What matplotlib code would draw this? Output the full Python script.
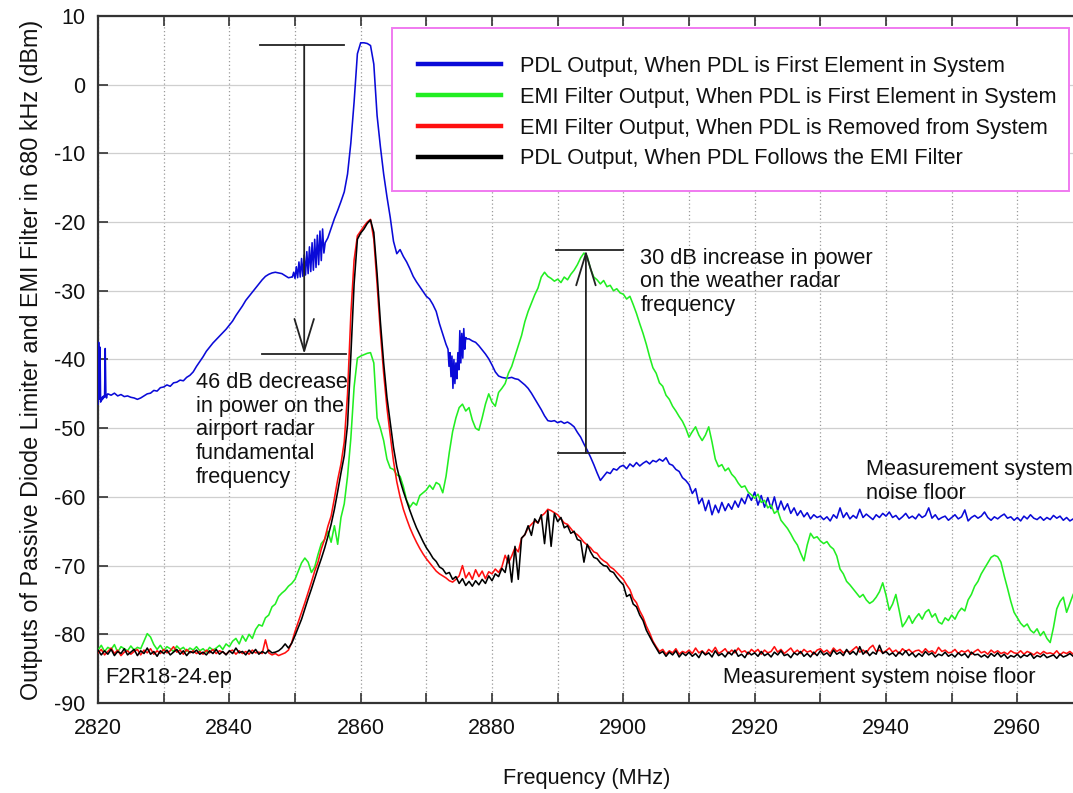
import numpy as np
import matplotlib
matplotlib.use('Agg')
import matplotlib.pyplot as plt
from matplotlib.patches import Rectangle
from matplotlib.lines import Line2D

plt.rcParams['font.family'] = ['Liberation Sans', 'DejaVu Sans']
plt.rcParams['axes.unicode_minus'] = False

nan = float('nan')

# ---------------- data (dBm, sampled every 0.5 MHz from 2820 MHz) ----------------
F_START = 2820.0
F_STEP = 0.5

blue_grid = [
    nan, nan, nan, -45.0, -45.2, -44.9, -45.3, -45.1, -45.4, -45.3,
    -45.5, -45.6, -45.8, -45.6, -45.3, -45.0, -44.9, -44.5, -44.6, -44.1,
    -44.0, -43.7, -43.9, -43.4, -43.3, -43.0, -43.1, -42.6, -42.3, -41.8,
    -41.0, -40.3, -39.6, -38.8, -38.2, -37.6, -37.1, -36.6, -36.1, -35.6,
    -35.0, -34.4, -33.6, -32.9, -32.2, -31.4, -30.8, -30.2, -29.6, -29.0,
    -28.4, -27.9, -27.6, -27.4, -27.3, -27.4, -27.5, -27.8, -28.1, -28.0,
    nan, nan, nan, nan, nan, nan, nan, nan, nan, nan,
    -22.3, -20.9, -19.5, -18.3, -17.0, -15.6, -13.0, -8.5, -2.5, 4.5,
    6.1, 6.1, 6.0, 5.7, 3.0, -4.5, -9.0, -13.0, -16.3, -19.3,
    -22.8, -24.6, -24.0, -25.0, -25.8, -26.8, -27.9, -28.7, -29.4, -30.1,
    -30.8, -31.2, -32.0, -33.0, -34.8, -36.3, -37.8, nan, nan, nan,
    nan, nan, nan, -37.0, -37.3, -37.5, -38.0, -38.6, -39.2, -39.9,
    -40.8, -41.8, -42.4, -42.6, -42.7, -42.7, -42.6, -42.8, -42.9, -43.3,
    -43.7, -44.2, -44.9, -45.7, -46.5, -47.3, -48.2, -48.9, -49.0, -48.9,
    -49.2, -49.0, -49.3, -49.1, -49.4, -49.8, -50.6, -51.3, -52.3, -53.2,
    -54.2, -55.3, -56.5, -57.6, -57.0, -56.4, -56.6, -55.9, -56.1, -55.6,
    -55.4, -55.9, -55.2, -55.6, -55.0, -55.5, -55.1, -54.8, -55.2, -54.7,
    -54.9, -54.5, -54.8, -54.3, -55.2, -55.4, -56.0, -56.3, -57.2, -57.6,
    -58.2, -59.5, -58.8, -61.0, -60.2, -62.0, -60.5, -62.6, -61.2, -62.3,
    -60.8, -62.0, -61.0, -61.8, -60.6, -61.5, -60.2, -61.0, -59.6, -60.5,
    -59.3, -61.2, -59.8, -61.5, -60.1, -61.7, -60.0, -62.0, -60.6, -61.9,
    -61.0, -62.4, -61.6, -62.7, -62.0, -62.9, -62.3, -63.2, -62.6, -63.0,
    -62.8, -63.3, -62.9, -63.5, -62.6, -63.1, -61.6, -63.0, -62.3, -63.2,
    -62.7, -63.1, -61.8, -63.0, -62.5, -62.9, -63.3, -62.6, -63.0, -62.4,
    -62.8, -62.2, -63.0, -62.7, -63.3, -62.9, -62.4, -63.1, -62.8, -63.2,
    -62.5, -63.0, -62.7, -61.6, -63.1, -62.6, -63.3, -63.0, -62.8, -63.4,
    -63.0, -62.6, -63.2, -62.9, -61.9, -63.5, -63.0, -62.7, -63.1, -62.8,
    -62.2, -63.0, -63.4, -62.9, -63.2, -62.8, -62.5, -63.1, -62.9, -63.4,
    -63.0, -63.5, -62.8, -63.2, -62.6, -63.1, -63.3, -62.9, -63.4, -63.0,
    -63.3, -62.7, -63.1, -62.8, -63.4, -63.0, -63.5, -63.2,
]

# finely sampled oscillating segments of the blue trace
blue_burst_freq = [
    2820.0, 2820.1, 2820.2, 2820.3, 2820.4, 2820.5, 2820.6, 2820.7, 2820.8, 2820.9,
    2821.0, 2821.1, 2821.2, 2821.3, 2821.4,
    2849.6, 2849.8, 2850.0, 2850.2, 2850.4, 2850.6, 2850.8, 2851.0, 2851.2, 2851.4,
    2851.6, 2851.8, 2852.0, 2852.2, 2852.4, 2852.6, 2852.8, 2853.0, 2853.2, 2853.4,
    2853.6, 2853.8, 2854.0, 2854.2, 2854.4, 2854.6,
    2873.3, 2873.45, 2873.6, 2873.75, 2873.9, 2874.05, 2874.2, 2874.35, 2874.5, 2874.65,
    2874.8, 2874.95, 2875.1, 2875.25, 2875.4, 2875.55, 2875.7, 2875.85, 2876.0, 2876.2,
]
blue_burst_vals = [
    -46.5, -37.5, -45.8, -38.2, -46.2, -45.6, -45.9, -45.4, -45.7, -45.3,
    -45.5, -38.4, -45.2, -45.6, -45.1,
    -28.0, -27.3, -28.2, -26.5, -28.1, -25.8, -28.0, -25.3, -27.9, -24.8,
    -27.7, -24.3, -27.5, -23.6, -27.2, -23.0, -27.0, -22.5, -26.6, -21.9,
    -26.2, -21.3, -25.6, -21.0, -24.5, -23.0,
    -38.5, -41.0, -39.0, -42.5, -39.5, -44.2, -40.0, -43.5, -40.5, -42.8,
    -39.0, -41.5, -35.8, -40.5, -36.2, -39.8, -35.5, -38.5, -36.8, -37.0,
]

green = [
    -82.3, -81.6, -82.5, -81.9, -82.2, -81.5, -82.6, -81.8, -82.1, -82.4,
    -81.7, -82.3, -81.9, -82.1, -81.0, -79.9, -80.4, -81.5, -82.2, -81.6,
    -82.4, -81.8, -82.1, -82.5, -81.7, -82.2, -81.9, -82.5, -82.0, -82.3,
    -81.8, -82.4, -82.1, -82.6, -81.9, -82.3, -82.0, -81.6, -82.2, -81.4,
    -81.8, -81.0, -80.6, -81.4, -80.2, -81.0, -80.0, -80.6, -79.3, -78.6,
    -78.8, -77.6, -77.2, -76.0, -75.6, -74.5, -74.0, -73.6, -73.0, -72.6,
    -72.0, -70.8, -69.6, -68.9, -69.5, -71.0, -70.2, -68.4, -66.8, -66.2,
    -65.0, -66.6, -64.2, -66.9, -63.0, -61.0, -57.0, -51.5, -44.0, -39.8,
    -39.5, -39.3, -39.1, -39.0, -40.5, -48.5, -50.0, -51.8, -54.5, -55.8,
    -56.0, -56.8, -57.0, -58.5, -60.5, -61.5, -60.8, -61.2, -59.8, -59.4,
    -59.0, -58.3, -58.9, -57.9, -58.2, -59.4, -57.0, -53.5, -50.5, -48.5,
    -47.0, -46.5, -47.5, -47.0, -48.8, -50.0, -50.3, -48.5, -46.5, -45.0,
    -46.2, -46.8, -44.8, -44.2, -43.5, -42.0, -41.0, -39.5, -38.0, -36.5,
    -34.5, -33.0, -31.8, -30.6, -29.6, -28.0, -27.3, -27.9, -28.2, -28.6,
    -28.3, -28.8, -28.0, -28.4, -27.6, -27.0, -26.2, -25.2, -24.5, -25.0,
    -26.8, -28.0, -28.4, -29.0, -28.5, -29.4, -29.2, -30.0, -29.7, -30.3,
    -30.5, -31.2, -30.8, -32.0, -33.3, -34.8, -36.2, -37.8, -39.6, -41.2,
    -42.0, -43.4, -43.9, -45.2, -45.8, -46.8, -47.5, -48.3, -49.0, -50.0,
    -51.3, -50.5, -49.8, -51.0, -51.8, -51.0, -49.8, -52.0, -54.5, -55.6,
    -55.3, -56.2, -55.8, -56.7, -57.2, -58.0, -58.6, -58.4, -59.3, -59.7,
    -60.2, -59.6, -60.8, -60.5, -61.6, -61.2, -62.4, -62.0, -63.4, -64.0,
    -64.6, -65.4, -66.3, -67.0, -68.2, -69.3, -67.0, -65.3, -66.0, -65.8,
    -66.4, -66.8, -66.5, -67.2, -67.6, -68.6, -70.5, -71.2, -72.3, -72.8,
    -73.4, -74.0, -74.6, -74.2, -75.0, -75.5, -75.2, -74.6, -73.8, -72.5,
    -74.3, -76.5, -75.6, -74.2, -76.5, -78.9, -78.2, -77.3, -78.4, -77.6,
    -77.0, -77.8, -76.8, -76.4, -77.5, -77.0, -78.2, -78.5, -77.6, -78.0,
    -77.2, -77.8, -76.8, -76.2, -76.6, -75.0, -74.2, -73.0, -72.3, -71.2,
    -70.4, -69.6, -68.8, -68.5, -68.7, -69.5, -71.5, -73.3, -75.2, -76.8,
    -77.6, -78.4, -78.9, -78.5, -79.4, -79.8, -79.2, -80.2, -79.6, -80.6,
    -81.2, -79.0, -76.3, -75.2, -74.6, -76.8, -75.5, -74.2,
]

red = [
    -82.7, -82.2, -83.0, -82.5, -82.0, -82.8, -82.3, -83.1, -82.6, -82.4,
    -82.9, -82.5, -82.2, -83.0, -82.3, -82.7, -82.1, -82.9, -82.4, -82.8,
    -82.2, -82.7, -82.4, -81.8, -82.6, -82.3, -82.9, -82.2, -82.7, -82.4,
    -82.8, -82.5, -82.9, -82.3, -82.7, -82.2, -82.8, -82.4, -82.6, -82.9,
    -82.5, -82.3, -82.9, -82.4, -82.8, -82.5, -82.9, -82.3, -82.7, -82.6,
    -82.8, -80.8, -82.7, -83.0, -82.8, -83.1, -82.9, -82.7, -82.3, -81.2,
    -79.6, -78.2, -76.8, -75.4, -73.9, -72.4, -70.8, -69.5, -67.6, -66.2,
    -64.3, -62.8, -60.2, -57.5, -55.2, -52.0, -45.0, -33.5, -25.5, -22.0,
    -21.3, -20.6, -20.0, -19.6, -22.5, -29.0, -36.0, -42.0, -47.0, -51.0,
    -54.8, -57.8, -60.0, -61.8, -63.2, -64.5, -65.6, -66.6, -67.5, -68.3,
    -69.0, -69.6, -70.2, -70.8, -71.2, -71.5, -71.8, -72.2, -72.4, -72.0,
    -71.5, -70.0, -71.8, -71.0, -72.0, -70.6, -71.6, -70.8, -71.9, -70.9,
    -71.2, -70.5, -71.0, -70.2, -68.5, -69.6, -68.6, -67.4, -68.0, -66.0,
    -65.5, -64.5, -64.0, -63.5, -63.8, -62.8, -62.4, -61.8, -62.0, -62.3,
    -62.6, -63.2, -63.8, -64.0, -64.6, -65.2, -65.5, -66.0, -66.6, -67.0,
    -67.4, -68.0, -68.2, -68.9, -69.3, -69.6, -70.2, -70.5, -71.0, -71.5,
    -72.0, -72.8, -73.5, -74.8, -75.4, -76.6, -77.5, -78.8, -79.8, -81.0,
    -81.8, -82.5, -82.2, -82.9, -82.4, -82.7, -82.1, -82.9, -82.5, -82.7,
    -82.3, -82.8, -82.0, -82.7, -82.4, -82.9, -82.2, -82.6, -81.9, -82.8,
    -82.5, -82.1, -82.8, -82.3, -82.7, -82.0, -82.6, -82.4, -82.9, -82.2,
    -82.6, -82.2, -82.9, -82.3, -82.7, -82.5, -81.8, -82.6, -82.2, -82.8,
    -82.4, -82.0, -82.7, -82.3, -82.8, -82.2, -82.6, -82.4, -82.9, -82.3,
    -82.1, -82.6, -82.3, -82.8, -82.0, -82.5, -82.2, -82.7, -82.4, -82.6,
    -82.2, -81.8, -82.6, -82.3, -82.7, -82.0, -81.6, -82.5, -82.3, -82.7,
    -82.4, -82.0, -82.6, -82.3, -82.8, -82.1, -82.5, -82.2, -82.7, -82.4,
    -82.3, -82.7, -82.1, -82.6, -82.4, -82.8, -81.9, -82.5, -82.3, -82.7,
    -82.6, -82.2, -82.8, -82.4, -82.6, -82.3, -82.9, -82.5, -82.2, -82.7,
    -82.5, -82.9, -82.3, -82.7, -82.4, -82.8, -82.6, -82.9, -82.4, -82.7,
    -82.8, -82.4, -82.9, -82.5, -82.7, -83.0, -82.6, -82.9, -82.5, -82.8,
    -82.7, -82.9, -82.4, -83.0, -82.6, -82.8, -82.5, -82.9,
]

black = [
    -82.3, -83.0, -82.4, -82.9, -82.2, -83.1, -82.5, -82.8, -82.1, -83.0,
    -82.6, -82.2, -83.1, -82.4, -82.8, -82.0, -82.9, -82.5, -83.2, -82.4,
    -82.8, -82.3, -83.0, -82.6, -82.2, -82.9, -82.4, -83.1, -82.5, -82.7,
    -82.3, -82.9, -82.6, -83.0, -82.4, -82.8, -82.2, -82.9, -82.5, -83.0,
    -82.4, -82.8, -82.0, -82.7, -82.5, -83.0, -82.3, -82.8, -82.2, -82.9,
    -82.5, -82.8, -82.3, -82.7, -82.6, -82.4, -82.0, -81.4, -82.0, -81.3,
    -80.2, -79.0, -77.8, -76.3, -74.8, -73.4, -71.9, -70.4, -69.0, -67.5,
    -65.8, -64.0, -61.8, -59.2, -56.5, -54.0, -49.5, -39.5, -29.0, -22.5,
    -21.6, -21.0, -20.2, -19.7, -21.5, -27.5, -34.5, -40.5, -45.5, -49.2,
    -52.8, -55.6, -57.6, -59.2, -60.6, -62.0, -63.3, -64.5, -65.5, -66.5,
    -67.4, -68.1, -68.9, -69.4, -70.2, -70.5, -71.2, -71.0, -72.0, -71.6,
    -72.6, -71.9, -72.9, -72.3, -73.0, -72.2, -72.8, -72.0, -72.6, -71.5,
    -72.2, -71.2, -71.6, -70.4, -71.0, -68.5, -72.4, -67.2, -72.0, -66.0,
    -65.5, -64.2, -65.6, -63.2, -63.8, -62.6, -66.8, -62.0, -67.2, -62.4,
    -63.6, -63.0, -64.5, -64.2, -65.3, -65.0, -66.2, -66.4, -69.5, -66.9,
    -68.0, -68.8, -69.0, -69.6, -70.0, -70.1, -70.8, -71.0, -71.7, -72.3,
    -72.8, -74.5, -74.2, -75.6, -76.0, -77.2, -78.0, -79.4, -80.3, -81.2,
    -82.0, -82.8, -82.5, -83.2, -82.6, -83.0, -82.4, -83.3, -82.7, -83.1,
    -82.6, -83.2, -82.8, -83.4, -82.5, -83.0, -82.7, -83.3, -82.4, -83.1,
    -82.8, -83.3, -82.6, -83.0, -82.3, -83.2, -82.9, -83.4, -82.6, -83.0,
    -82.7, -83.2, -82.5, -83.1, -82.8, -83.3, -82.6, -83.0, -82.4, -83.1,
    -82.9, -83.4, -82.7, -83.0, -82.5, -83.2, -82.8, -83.3, -82.6, -83.1,
    -82.4, -83.0, -82.7, -83.2, -82.3, -82.9, -82.6, -83.1, -82.2, -82.9,
    -82.5, -83.0, -81.8, -82.9, -82.4, -83.1, -82.6, -82.9, -81.6, -82.8,
    -82.5, -83.0, -82.7, -83.2, -82.6, -83.0, -82.4, -83.1, -82.7, -83.3,
    -82.8, -83.2, -82.5, -83.0, -82.7, -83.3, -82.9, -83.1, -82.6, -83.2,
    -82.9, -83.3, -82.7, -83.1, -82.8, -83.4, -82.6, -83.0, -82.9, -83.3,
    -83.0, -83.4, -82.8, -83.2, -82.7, -83.3, -82.9, -83.5, -83.1, -83.3,
    -82.9, -83.4, -83.0, -83.2, -82.8, -83.5, -83.1, -83.3, -82.9, -83.4,
    -83.2, -83.0, -83.5, -82.9, -83.3, -83.1, -82.8, -83.2,
]

series_labels = [
    'PDL Output, When PDL is First Element in System',
    'EMI Filter Output, When PDL is First Element in System',
    'EMI Filter Output, When PDL is Removed from System',
    'PDL Output, When PDL Follows the EMI Filter',
]
series_colors = ['#0a0ad8', '#22ee22', '#ff1010', '#000000']

x_tick_values = [2820, 2830, 2840, 2850, 2860, 2870, 2880, 2890, 2900, 2910,
                 2920, 2930, 2940, 2950, 2960]
x_tick_labels = ['2820', '', '2840', '', '2860', '', '2880', '', '2900', '',
                 '2920', '', '2940', '', '2960']
y_tick_values = [-90, -80, -70, -60, -50, -40, -30, -20, -10, 0, 10]
y_tick_labels = ['-90', '-80', '-70', '-60', '-50', '-40', '-30', '-20', '-10', '0', '10']

# ---------------- build traces ----------------
n = len(green)
freq = F_START + F_STEP * np.arange(n)

bg = np.array(blue_grid, dtype=float)
keep = ~np.isnan(bg)
bf = np.concatenate([freq[:len(bg)][keep], np.array(blue_burst_freq)])
bv = np.concatenate([bg[keep], np.array(blue_burst_vals)])
order = np.argsort(bf)
blue_f, blue_v = bf[order], bv[order]

# ---------------- figure ----------------
W, H = 1073, 793
fig = plt.figure(figsize=(W / 100, H / 100), dpi=100)
ax = fig.add_axes([98 / W, 1 - 703 / H, 1.0 - 98 / W + 0.002, (703 - 16) / H])

lw = 1.15
ax.plot(blue_f, blue_v, color=series_colors[0], lw=lw, zorder=3)
ax.plot(freq, green, color=series_colors[1], lw=lw, zorder=4)
ax.plot(freq, red, color=series_colors[2], lw=lw, zorder=5)
ax.plot(freq, black, color=series_colors[3], lw=lw, zorder=6)

ax.set_xlim(2820, 2968.8)
ax.set_ylim(-90, 10)

FS = 15.7
ax.set_xticks(x_tick_values)
ax.set_xticklabels(x_tick_labels)
ax.set_yticks(y_tick_values)
ax.set_yticklabels(y_tick_labels)
ax.tick_params(axis='both', direction='in', length=7, width=1.2, color='#333333',
               labelsize=15.5, labelcolor='#111111')
ax.tick_params(axis='x', top=True, pad=11)
ax.tick_params(axis='y', pad=9)

ax.grid(axis='x', linestyle=(0, (1, 2)), color='#9a9a9a', lw=0.9, zorder=0)
ax.grid(axis='y', linestyle='-', color='#cfcfcf', lw=0.9, zorder=0)

for s in ['left', 'bottom', 'top']:
    ax.spines[s].set_color('#333333')
    ax.spines[s].set_linewidth(1.6)
ax.spines['right'].set_visible(False)

ax.set_xlabel('Frequency (MHz)', fontsize=FS, labelpad=21, color='#111111')
ax.set_ylabel('Outputs of Passive Diode Limiter and EMI Filter in 680 kHz (dBm)',
              fontsize=16.8, labelpad=8, color='#111111')

# ---------------- annotations ----------------
ann_color = '#222222'
arrow_style = '->,head_length=2.3,head_width=0.7'
# 46 dB decrease arrow
ax.plot([2844.6, 2857.4], [5.8, 5.8], color=ann_color, lw=1.3, zorder=7)
ax.plot([2845.0, 2857.7], [-39.2, -39.2], color=ann_color, lw=1.3, zorder=7)
ax.annotate('', xy=(2851.4, -39.2), xytext=(2851.4, 5.8),
            arrowprops=dict(arrowstyle=arrow_style, color=ann_color, lw=1.3,
                            shrinkA=0, shrinkB=0), zorder=7)
# 30 dB increase arrow
ax.plot([2889.7, 2900.0], [-24.1, -24.1], color=ann_color, lw=1.3, zorder=7)
ax.plot([2890.1, 2900.3], [-53.6, -53.6], color=ann_color, lw=1.3, zorder=7)
ax.annotate('', xy=(2894.3, -24.1), xytext=(2894.3, -53.6),
            arrowprops=dict(arrowstyle=arrow_style, color=ann_color, lw=1.3,
                            shrinkA=0, shrinkB=0), zorder=7)

txt_kw = dict(fontsize=FS, color='#111111', va='top', ha='left', linespacing=1.17, zorder=8)
ax.text(2834.9, -41.8, '46 dB decrease\nin power on the\nairport radar\nfundamental\nfrequency',
        **txt_kw)
ax.text(2902.6, -23.7, '30 dB increase in power\non the weather radar\nfrequency', **txt_kw)
ax.text(2936.9, -54.5, 'Measurement system\nnoise floor', **txt_kw)
ax.text(2915.1, -84.8, 'Measurement system noise floor', **txt_kw)
ax.text(2821.1, -84.8, 'F2R18-24.ep', **txt_kw)

# ---------------- legend ----------------
box = Rectangle((392 / W, 1 - 191 / H), (1069 - 392) / W, (191 - 28) / H,
                transform=fig.transFigure, facecolor='white', edgecolor='#f07af0',
                lw=1.4, zorder=9)
ax.add_artist(box)
box.set_clip_on(False)

handles = [Line2D([], [], color=c, lw=3.2) for c in series_colors]
leg = ax.legend(handles, series_labels, loc='upper left',
                bbox_to_anchor=(418 / W, 1 - 56 / H), bbox_transform=fig.transFigure,
                frameon=False, fontsize=FS, handlelength=3.8, handletextpad=0.88,
                labelspacing=0.45, borderpad=0.0, borderaxespad=0.0)
leg.set_zorder(10)
for t in leg.get_texts():
    t.set_color('#111111')

fig.savefig('out.png', dpi=100)
